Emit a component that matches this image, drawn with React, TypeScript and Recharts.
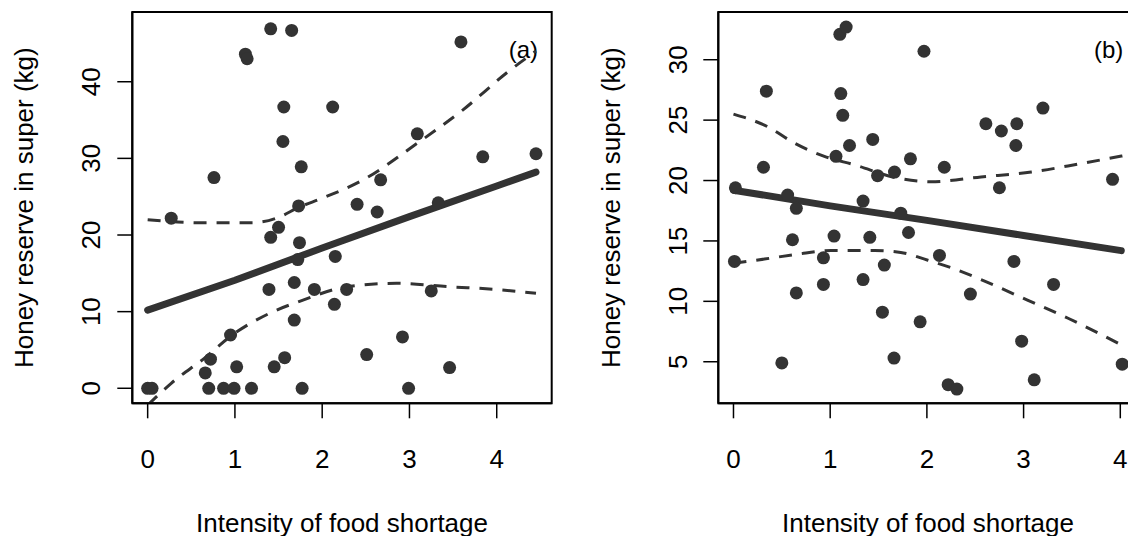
import React from "react"
import { ComposedChart, Scatter, Line, XAxis, YAxis, ReferenceArea } from "recharts"

// panel (a): observed points [intensity, honey kg]
const pointsA: number[][] = [
  [0.0, 0], [0.05, 0], [0.27, 22.2], [0.66, 2.0], [0.7, 0], [0.72, 3.8], [0.76, 27.5], [0.87, 0],
  [0.95, 6.95], [0.99, 0], [1.02, 2.8], [1.12, 43.6], [1.14, 43.0], [1.19, 0], [1.39, 12.9], [1.41, 19.7],
  [1.41, 46.9], [1.45, 2.8], [1.5, 21.0], [1.55, 32.2], [1.56, 36.7], [1.57, 4.0], [1.65, 46.7], [1.68, 13.8],
  [1.68, 8.9], [1.72, 16.8], [1.73, 23.8], [1.74, 19.0], [1.76, 28.9], [1.77, 0], [1.91, 12.9], [2.12, 36.7],
  [2.14, 10.95], [2.15, 17.2], [2.28, 12.9], [2.4, 24.0], [2.51, 4.4], [2.63, 23.0], [2.67, 27.2], [2.92, 6.7],
  [2.99, 0], [3.09, 33.2], [3.25, 12.7], [3.33, 24.2], [3.46, 2.7], [3.59, 45.2], [3.84, 30.2], [4.45, 30.6],
]
const fitA: number[][] = [[0, 10.2], [1, 14.1], [2, 18.3], [3, 22.4], [4, 26.4], [4.45, 28.2]]
const upperA: number[][] = [
  [0, 22.0], [0.6, 21.6], [1.2, 21.6], [1.5, 22.3], [1.73, 23.6], [2.0, 24.8], [2.47, 27.2],
  [3.08, 31.9], [3.61, 36.3], [4.13, 41.3], [4.45, 44.0],
]
const lowerA: number[][] = [
  [0, -2.2], [0.27, 0.65], [0.67, 4.1], [0.94, 6.7], [1.4, 9.8], [1.78, 11.5], [2.28, 13.25],
  [2.85, 13.7], [3.46, 13.25], [3.99, 12.9], [4.45, 12.4],
]

// panel (b)
const pointsB: number[][] = [
  [0.01, 13.3], [0.02, 19.4], [0.31, 21.1], [0.34, 27.4], [0.5, 4.9], [0.56, 18.8], [0.61, 15.1], [0.65, 17.7],
  [0.65, 10.7], [0.93, 13.6], [0.93, 11.4], [1.04, 15.4], [1.06, 22.0], [1.1, 32.1], [1.11, 27.2], [1.13, 25.4],
  [1.165, 32.7], [1.2, 22.9], [1.34, 18.3], [1.34, 11.8], [1.41, 15.3], [1.44, 23.4], [1.49, 20.4], [1.54, 9.1],
  [1.56, 13.0], [1.66, 5.3], [1.665, 20.7], [1.73, 17.3], [1.81, 15.7], [1.83, 21.8], [1.93, 8.3], [1.97, 30.7],
  [2.13, 13.8], [2.18, 21.1], [2.22, 3.1], [2.31, 2.74], [2.45, 10.6], [2.61, 24.7], [2.75, 19.4], [2.77, 24.1],
  [2.9, 13.3], [2.92, 22.9], [2.93, 24.7], [2.98, 6.7], [3.11, 3.5], [3.2, 26.0], [3.31, 11.4], [3.92, 20.1],
  [4.02, 4.8],
]
const fitB: number[][] = [[0, 19.2], [1, 17.9], [2, 16.7], [3, 15.45], [4.01, 14.2]]
const upperB: number[][] = [
  [0, 25.5], [0.355, 24.45], [0.63, 23.1], [0.94, 22.0], [1.25, 21.3], [1.7, 20.2], [2.04, 19.9],
  [2.56, 20.3], [3.08, 20.7], [3.59, 21.4], [4.03, 22.05],
]
const lowerB: number[][] = [
  [0, 13.15], [0.32, 13.5], [0.66, 13.9], [1.01, 14.2], [1.46, 14.2], [1.73, 14.05], [2.01, 13.4],
  [2.28, 12.7], [2.56, 11.8], [3.04, 10.1], [3.46, 8.6], [4.01, 6.4],
]

const xTicks = [0, 1, 2, 3, 4]
const yTicksA = [0, 10, 20, 30, 40]
const yTicksB = [5, 10, 15, 20, 25, 30]

const xTitle = "Intensity of food shortage"
const yTitle = "Honey reserve in super (kg)"

const FONT = "'Liberation Sans', Arial, Helvetica, sans-serif"
const INK = "#333333"

const toXY = (arr: number[][]) => arr.map(([x, y]) => ({ x, y }))

const Dot = (props: any) => <circle cx={props.cx} cy={props.cy} r={6.5} fill={INK} />

interface PanelProps {
  left: number
  width: number
  plotLeft: number
  plotRight: number
  xDomain: [number, number]
  yDomain: [number, number]
  yTicks: number[]
  points: number[][]
  fit: number[][]
  upper: number[][]
  lower: number[][]
  tag: string
  yLabelBase: number
  yTitleBase: number
  tagX: number
}

function Panel(p: PanelProps) {
  const height = 536
  const top = 12
  const bottom = 403.3
  const midX = (p.plotLeft + p.plotRight) / 2
  const midY = (top + bottom) / 2

  const xTick = (t: any) => (
    <text x={t.x} y={468} textAnchor="middle" fontSize={26} fontFamily={FONT} fill="#000">
      {t.payload.value}
    </text>
  )
  const yTick = (t: any) => (
    <text
      transform={`translate(${p.yLabelBase}, ${t.y}) rotate(-90)`}
      textAnchor="middle"
      fontSize={26}
      fontFamily={FONT}
      fill="#000"
    >
      {t.payload.value}
    </text>
  )

  return (
    <div style={{ position: "absolute", left: p.left, top: 0 }}>
      <ComposedChart
        width={p.width}
        height={height}
        margin={{ top, left: 0, right: p.width - p.plotRight, bottom: 0 }}
      >
        <XAxis
          type="number"
          dataKey="x"
          domain={p.xDomain}
          allowDataOverflow
          ticks={xTicks}
          interval={0}
          height={height - bottom}
          tickSize={15}
          tickLine={{ stroke: "#000", strokeWidth: 1.5 }}
          axisLine={{ stroke: "#000", strokeWidth: 2 }}
          tick={xTick}
        />
        <YAxis
          type="number"
          dataKey="y"
          domain={p.yDomain}
          allowDataOverflow
          ticks={p.yTicks}
          interval={0}
          width={p.plotLeft}
          tickSize={15}
          tickLine={{ stroke: "#000", strokeWidth: 1.5 }}
          axisLine={{ stroke: "#000", strokeWidth: 2 }}
          tick={yTick}
        />
        <ReferenceArea
          x1={p.xDomain[0]}
          x2={p.xDomain[1]}
          y1={p.yDomain[0]}
          y2={p.yDomain[1]}
          fill="none"
          stroke="#000"
          strokeWidth={2}
          ifOverflow="visible"
        />
        <Scatter data={toXY(p.points)} dataKey="y" shape={Dot} isAnimationActive={false} />
        <Line
          data={toXY(p.upper)}
          dataKey="y"
          type="monotone"
          stroke={INK}
          strokeWidth={3}
          strokeDasharray="13 10"
          dot={false}
          activeDot={false}
          isAnimationActive={false}
        />
        <Line
          data={toXY(p.lower)}
          dataKey="y"
          type="monotone"
          stroke={INK}
          strokeWidth={3}
          strokeDasharray="13 10"
          dot={false}
          activeDot={false}
          isAnimationActive={false}
        />
        <Line
          data={toXY(p.fit)}
          dataKey="y"
          type="linear"
          stroke={INK}
          strokeWidth={7}
          strokeLinecap="round"
          dot={false}
          activeDot={false}
          isAnimationActive={false}
        />
        <text x={p.tagX} y={58} textAnchor="end" fontSize={24} fontFamily={FONT} fill="#000">
          {p.tag}
        </text>
        <text x={midX} y={532} textAnchor="middle" fontSize={26} fontFamily={FONT} fill="#000">
          {xTitle}
        </text>
        <text
          transform={`translate(${p.yTitleBase}, ${midY}) rotate(-90)`}
          textAnchor="middle"
          fontSize={26}
          fontFamily={FONT}
          fill="#000"
        >
          {yTitle}
        </text>
      </ComposedChart>
    </div>
  )
}

export default function App() {
  return (
    <div
      style={{
        position: "absolute",
        left: 0,
        top: 0,
        width: 1128,
        height: 536,
        overflow: "hidden",
        background: "#fff",
      }}
    >
      <Panel
        left={0}
        width={564}
        plotLeft={132.3}
        plotRight={551.7}
        xDomain={[-0.176, 4.63]}
        yDomain={[-1.96, 49.1]}
        yTicks={yTicksA}
        points={pointsA}
        fit={fitA}
        upper={upperA}
        lower={lowerA}
        tag="(a)"
        yLabelBase={100}
        yTitleBase={33}
        tagX={538}
      />
      <Panel
        left={564}
        width={580}
        plotLeft={154.3}
        plotRight={573.7}
        xDomain={[-0.157, 4.18]}
        yDomain={[1.56, 33.95]}
        yTicks={yTicksB}
        points={pointsB}
        fit={fitB}
        upper={upperB}
        lower={lowerB}
        tag="(b)"
        yLabelBase={122.5}
        yTitleBase={56}
        tagX={559.3}
      />
    </div>
  )
}
